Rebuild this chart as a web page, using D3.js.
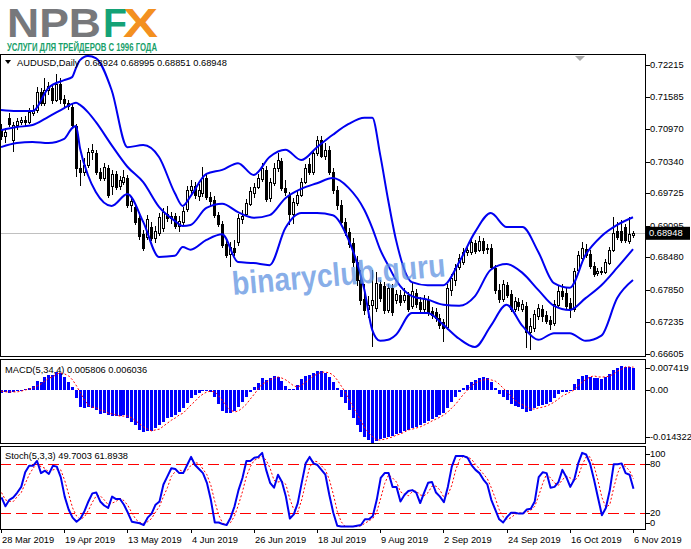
<!DOCTYPE html>
<html><head><meta charset="utf-8">
<script src="https://cdn.jsdelivr.net/npm/d3@7"></script>
<style>body{margin:0;background:#fff}svg{display:block}text{font-family:"Liberation Sans",Arial,sans-serif}</style>
</head><body><svg id="c" width="691" height="549"></svg>
<script>
// ---------- DATA ----------
const symbolTitle = "AUDUSD,Daily";
const opens = [
0.7095,0.7084,0.7119,0.7076,0.7105,0.7111,0.7115,0.7111,0.7128,0.7134,
0.7169,0.7148,0.7173,0.7177,0.7154,0.7185,0.7155,0.7148,0.7140,0.7103,
0.7022,0.7014,0.7027,0.7053,0.7051,0.7014,0.7002,0.7022,0.6987,0.7010,
0.6987,0.6994,0.7002,0.6950,0.6946,0.6925,0.6893,0.6887,0.6907,0.6886,
0.6895,0.6905,0.6932,0.6925,0.6928,0.6909,0.6917,0.6942,0.6979,0.6987,
0.6967,0.6973,0.7002,0.6965,0.6960,0.6930,0.6913,0.6874,0.6855,0.6866,
0.6878,0.6923,0.6932,0.6952,0.6973,0.6985,0.7000,0.7018,0.6963,0.6992,
0.7022,0.7035,0.6983,0.6969,0.6932,0.6954,0.6969,0.6994,0.7029,0.7014,
0.7051,0.7076,0.7045,0.7057,0.7014,0.6979,0.6950,0.6917,0.6897,0.6876,
0.6839,0.6804,0.6767,0.6748,0.6756,0.6750,0.6796,0.6792,0.6746,0.6789,
0.6766,0.6775,0.6766,0.6775,0.6754,0.6779,0.6762,0.6748,0.6766,0.6744,
0.6742,0.6731,0.6723,0.6713,0.6785,0.6804,0.6830,0.6839,0.6859,0.6859,
0.6876,0.6863,0.6880,0.6864,0.6866,0.6828,0.6785,0.6767,0.6794,0.6777,
0.6748,0.6762,0.6748,0.6754,0.6703,0.6711,0.6734,0.6748,0.6736,0.6727,
0.6721,0.6756,0.6783,0.6779,0.6760,0.6748,0.6824,0.6847,0.6864,0.6855,
0.6831,0.6818,0.6822,0.6820,0.6837,0.6863,0.6899,0.6899,0.6907,0.6880,
0.68924];
const highs = [
0.7107,0.7099,0.7128,0.7111,0.7119,0.7121,0.7122,0.7138,0.7144,0.7179,
0.7177,0.7196,0.7189,0.7185,0.7204,0.7196,0.7163,0.7154,0.7146,0.7107,
0.7037,0.7041,0.7060,0.7068,0.7057,0.7022,0.7031,0.7027,0.7018,0.7016,
0.7006,0.7018,0.7008,0.6963,0.6952,0.6932,0.6901,0.6930,0.6917,0.6909,
0.6934,0.6944,0.6948,0.6936,0.6934,0.6928,0.6946,0.6987,0.6998,0.6994,
0.6990,0.7024,0.7010,0.6975,0.6967,0.6936,0.6919,0.6882,0.6878,0.6882,
0.6932,0.6940,0.6961,0.6985,0.6992,0.7010,0.7031,0.7026,0.7002,0.7031,
0.7051,0.7041,0.6998,0.6975,0.6963,0.6977,0.7002,0.7029,0.7041,0.7057,
0.7084,0.7084,0.7070,0.7064,0.7022,0.6987,0.6960,0.6925,0.6905,0.6886,
0.6851,0.6824,0.6796,0.6773,0.6824,0.6820,0.6804,0.6800,0.6796,0.6796,
0.6785,0.6785,0.6789,0.6781,0.6800,0.6787,0.6771,0.6775,0.6773,0.6752,
0.6750,0.6738,0.6729,0.6796,0.6816,0.6835,0.6855,0.6866,0.6870,0.6886,
0.6882,0.6889,0.6886,0.6874,0.6874,0.6833,0.6796,0.6804,0.6800,0.6785,
0.6771,0.6769,0.6766,0.6762,0.6731,0.6746,0.6758,0.6756,0.6744,0.6734,
0.6766,0.6792,0.6796,0.6789,0.6769,0.6828,0.6861,0.6878,0.6874,0.6863,
0.6839,0.6828,0.6830,0.6845,0.6868,0.6926,0.6917,0.6921,0.6913,0.6926,
0.68995];
const lows = [
0.7076,0.7070,0.7101,0.7053,0.7095,0.7105,0.7103,0.7107,0.7122,0.7128,
0.7142,0.7142,0.7163,0.7146,0.7150,0.7146,0.7138,0.7134,0.7099,0.7004,
0.6987,0.7006,0.7022,0.7037,0.7008,0.6996,0.6996,0.6963,0.6969,0.6979,
0.6979,0.6989,0.6944,0.6936,0.6911,0.6882,0.6861,0.6882,0.6880,0.6876,
0.6889,0.6897,0.6917,0.6913,0.6903,0.6897,0.6911,0.6936,0.6969,0.6961,
0.6958,0.6965,0.6960,0.6948,0.6925,0.6907,0.6866,0.6847,0.6830,0.6851,
0.6870,0.6913,0.6928,0.6948,0.6963,0.6981,0.6994,0.6956,0.6956,0.6987,
0.7014,0.6977,0.6967,0.6911,0.6913,0.6948,0.6965,0.6990,0.7008,0.7008,
0.7045,0.7041,0.7037,0.7008,0.6971,0.6940,0.6909,0.6889,0.6866,0.6830,
0.6792,0.6756,0.6736,0.6731,0.6674,0.6742,0.6762,0.6738,0.6740,0.6734,
0.6758,0.6754,0.6760,0.6742,0.6748,0.6750,0.6742,0.6742,0.6734,0.6729,
0.6723,0.6709,0.6684,0.6707,0.6773,0.6792,0.6824,0.6833,0.6851,0.6853,
0.6855,0.6859,0.6855,0.6855,0.6824,0.6777,0.6760,0.6762,0.6769,0.6742,
0.6742,0.6744,0.6742,0.6672,0.6669,0.6703,0.6727,0.6723,0.6719,0.6707,
0.6715,0.6750,0.6766,0.6748,0.6731,0.6742,0.6818,0.6841,0.6847,0.6826,
0.6810,0.6812,0.6814,0.6816,0.6833,0.6859,0.6882,0.6876,0.6876,0.6874,
0.68851];
const closes = [
0.7084,0.7092,0.7107,0.7105,0.7113,0.7115,0.7111,0.7130,0.7134,0.7169,
0.7148,0.7173,0.7181,0.7154,0.7185,0.7155,0.7148,0.7142,0.7105,0.7022,
0.7014,0.7027,0.7053,0.7057,0.7014,0.7002,0.7024,0.6969,0.7010,0.6985,
0.6998,0.7004,0.6950,0.6958,0.6917,0.6889,0.6866,0.6923,0.6886,0.6899,
0.6926,0.6936,0.6925,0.6928,0.6909,0.6919,0.6938,0.6979,0.6987,0.6969,
0.6979,0.7002,0.6965,0.6958,0.6930,0.6913,0.6872,0.6853,0.6868,0.6859,
0.6925,0.6928,0.6954,0.6977,0.6985,0.7002,0.7022,0.6961,0.6994,0.7022,
0.7037,0.6983,0.6975,0.6932,0.6956,0.6969,0.6994,0.7022,0.7014,0.7051,
0.7076,0.7045,0.7057,0.7014,0.6979,0.6950,0.6917,0.6897,0.6874,0.6839,
0.6804,0.6766,0.6746,0.6756,0.6766,0.6798,0.6769,0.6746,0.6789,0.6742,
0.6777,0.6762,0.6775,0.6748,0.6783,0.6758,0.6748,0.6767,0.6742,0.6736,
0.6731,0.6717,0.6711,0.6789,0.6808,0.6828,0.6847,0.6859,0.6863,0.6878,
0.6861,0.6880,0.6863,0.6866,0.6830,0.6785,0.6767,0.6796,0.6775,0.6748,
0.6764,0.6754,0.6758,0.6703,0.6715,0.6738,0.6750,0.6734,0.6725,0.6719,
0.6758,0.6783,0.6773,0.6754,0.6748,0.6822,0.6853,0.6866,0.6853,0.6831,
0.6816,0.6822,0.6820,0.6839,0.6863,0.6895,0.6887,0.6882,0.6882,0.6893,
0.68948];
// Bollinger bands, read at these bar indices
const bbIdx = [0,4,8,12,16,18,19,20,22,24,28,32,36,40,44,46,48,52,56,60,64,68,72,76,80,84,88,92,94,96,98,100,104,108,112,116,120,124,128,132,136,140,144,148,152,156,160];
const bbUpper = [0.7134,0.7132,0.7132,0.7177,0.7192,0.7198,0.7216,0.7231,0.7239,0.7235,0.7173,0.7062,0.7066,0.7043,0.6973,0.6948,0.6967,0.7010,0.7018,0.7031,0.7008,0.7043,0.7057,0.7037,0.7062,0.7086,0.7107,0.7119,0.7119,0.7047,0.6960,0.6882,0.6800,0.6794,0.6794,0.6839,0.6897,0.6934,0.6907,0.6907,0.6859,0.6798,0.6789,0.6853,0.6889,0.6911,0.6926];
const bbMiddle = [0.7095,0.7101,0.7105,0.7121,0.7138,0.7146,0.7148,0.7144,0.7130,0.7111,0.7066,0.7024,0.6994,0.6946,0.6919,0.6909,0.6911,0.6944,0.6952,0.6936,0.6925,0.6930,0.6963,0.6981,0.6992,0.7002,0.6983,0.6940,0.6905,0.6863,0.6833,0.6804,0.6773,0.6766,0.6756,0.6754,0.6773,0.6824,0.6835,0.6818,0.6785,0.6754,0.6746,0.6769,0.6794,0.6828,0.6864];
const bbLower = [0.7062,0.7070,0.7072,0.7070,0.7078,0.7099,0.7103,0.7060,0.7008,0.6975,0.6948,0.6971,0.6917,0.6849,0.6851,0.6868,0.6863,0.6882,0.6893,0.6839,0.6837,0.6833,0.6905,0.6934,0.6934,0.6930,0.6882,0.6785,0.6707,0.6686,0.6688,0.6698,0.6740,0.6740,0.6717,0.6690,0.6674,0.6715,0.6756,0.6715,0.6688,0.6701,0.6701,0.6686,0.6696,0.6769,0.6804];
const macdHist = [
-0.0009,-0.0006,-0.0009,-0.0006,-0.0004,-0.0004,0.0002,0.0004,0.0010,0.0023,
0.0020,0.0034,0.0039,0.0039,0.0047,0.0045,0.0034,0.0020,0.0007,-0.0023,
-0.0047,-0.0049,-0.0047,-0.0049,-0.0055,-0.0065,-0.0063,-0.0068,-0.0071,-0.0071,
-0.0071,-0.0068,-0.0076,-0.0087,-0.0095,-0.0108,-0.0114,-0.0111,-0.0111,-0.0103,
-0.0095,-0.0087,-0.0076,-0.0074,-0.0068,-0.0060,-0.0049,-0.0036,-0.0023,-0.0014,
-0.0009,-0.0004,-0.0004,-0.0006,-0.0020,-0.0039,-0.0057,-0.0063,-0.0063,-0.0057,
-0.0047,-0.0033,-0.0020,-0.0006,0.0007,0.0018,0.0031,0.0026,0.0031,0.0037,
0.0034,0.0023,0.0010,0.0002,0.0002,0.0012,0.0028,0.0037,0.0039,0.0045,
0.0050,0.0050,0.0045,0.0034,0.0020,0.0004,-0.0020,-0.0036,-0.0055,-0.0076,
-0.0095,-0.0114,-0.0127,-0.0135,-0.014322,-0.0138,-0.0133,-0.0130,-0.0127,-0.0125,
-0.0119,-0.0116,-0.0111,-0.0108,-0.0103,-0.0100,-0.0095,-0.0090,-0.0084,-0.0079,
-0.0074,-0.0068,-0.0063,-0.0049,-0.0033,-0.0020,-0.0006,0.0004,0.0012,0.0020,
0.0026,0.0031,0.0034,0.0031,0.0020,0.0004,-0.0012,-0.0020,-0.0028,-0.0039,
-0.0044,-0.0047,-0.0052,-0.0060,-0.0057,-0.0049,-0.0044,-0.0041,-0.0039,-0.0033,
-0.0023,-0.0012,-0.0006,-0.0006,-0.0001,0.0015,0.0028,0.0037,0.0039,0.0034,
0.0031,0.0031,0.0028,0.0034,0.0042,0.0053,0.0058,0.0063,0.0061,0.0061,
0.005806];
const macdSignal = [
-0.0004,-0.0006,-0.0006,-0.0006,-0.0006,-0.0004,-0.0001,0.0002,0.0004,0.0010,
0.0015,0.0023,0.0031,0.0034,0.0042,0.0045,0.0042,0.0037,0.0026,0.0010,
-0.0009,-0.0028,-0.0041,-0.0047,-0.0049,-0.0055,-0.0057,-0.0063,-0.0065,-0.0068,
-0.0071,-0.0071,-0.0071,-0.0076,-0.0084,-0.0092,-0.0100,-0.0106,-0.0111,-0.0108,
-0.0106,-0.0098,-0.0090,-0.0082,-0.0076,-0.0068,-0.0063,-0.0052,-0.0041,-0.0031,
-0.0020,-0.0012,-0.0006,-0.0004,-0.0006,-0.0017,-0.0031,-0.0044,-0.0055,-0.0060,
-0.0057,-0.0049,-0.0039,-0.0025,-0.0012,0.0002,0.0015,0.0020,0.0026,0.0031,
0.0034,0.0031,0.0026,0.0018,0.0010,0.0007,0.0012,0.0020,0.0028,0.0037,
0.0042,0.0047,0.0047,0.0045,0.0039,0.0026,0.0010,-0.0006,-0.0028,-0.0047,
-0.0065,-0.0084,-0.0103,-0.0116,-0.0127,-0.0135,-0.0135,-0.0133,-0.0130,-0.0127,
-0.0122,-0.0119,-0.0114,-0.0108,-0.0106,-0.0103,-0.0100,-0.0095,-0.0090,-0.0084,
-0.0079,-0.0074,-0.0068,-0.0060,-0.0049,-0.0039,-0.0025,-0.0012,-0.0001,0.0010,
0.0018,0.0023,0.0026,0.0028,0.0026,0.0023,0.0015,0.0004,-0.0006,-0.0017,
-0.0028,-0.0036,-0.0041,-0.0047,-0.0052,-0.0052,-0.0049,-0.0047,-0.0044,-0.0039,
-0.0033,-0.0025,-0.0017,-0.0012,-0.0006,-0.0001,0.0010,0.0020,0.0028,0.0034,
0.0037,0.0034,0.0034,0.0034,0.0037,0.0042,0.0050,0.0055,0.0061,0.0061,
0.006036];
const stochK = [
39,28,36,39,45,52,70,78,78,84,
69,72,68,78,77,64,40,24,14,9,
13,22,34,44,45,34,29,26,40,37,
37,30,20,9,8,7,5,14,19,30,
34,55,65,75,74,69,69,79,89,79,
74,69,57,36,8,8,6,5,14,28,
48,63,84,84,88,89,94,73,57,51,
67,58,40,13,18,32,57,81,89,81,
79,73,67,42,20,4,3,3,3,3,
4,5,12,12,16,36,63,69,69,52,
52,34,42,47,48,45,32,45,57,58,
45,40,33,52,77,90,90,90,88,79,
73,69,61,55,36,24,12,8,15,20,
20,19,19,24,25,34,64,70,69,51,
52,58,73,64,52,61,81,94,92,81,
61,39,17,26,48,80,80,81,69,67,
49.7003];
const stochD = [
45,36,34,34,40,45,56,67,75,80,
77,75,70,73,74,73,60,43,26,16,
12,15,23,33,41,41,36,30,32,34,
38,35,29,20,12,8,7,9,13,21,
28,40,51,65,71,73,71,72,79,82,
81,74,67,54,34,17,7,6,8,16,
30,46,65,77,85,87,90,85,75,60,
58,59,55,37,24,21,36,57,76,84,
83,78,73,61,43,22,9,3,3,3,
3,4,7,10,13,21,38,56,67,63,
58,46,43,41,46,47,42,41,45,53,
53,48,39,42,54,73,86,90,89,86,
80,74,68,62,51,38,24,15,12,14,
18,20,19,21,23,28,41,56,68,63,
57,54,61,65,63,59,65,79,89,89,
78,60,39,27,30,51,69,80,77,72,
61.8938];
const priceTicks = [0.72215,0.71585,0.70970,0.70340,0.69725,0.69095,0.68480,0.67850,0.67235,0.66605];
const macdTicks = [0.007419,0,-0.014322];
const macdTickLabels = ["0.007419","0.00","-0.014322"];
const stochTicks = [100,80,20,0];
const stochLevels = [80,20];
const dateTickIdx = [0,16,32,48,64,80,96,112,128,144,160];
const dateTickLabels = ["28 Mar 2019","19 Apr 2019","13 May 2019","4 Jun 2019","26 Jun 2019","18 Jul 2019","9 Aug 2019","2 Sep 2019","24 Sep 2019","16 Oct 2019","6 Nov 2019"];

// ---------- LAYOUT ----------
const svg = d3.select("#c");
const RIGHT = 645;
const P = {main:[55,356], macd:[360,443], stoch:[447,529]};
const FS = 9.3;
const x = d3.scaleLinear().domain([0,160]).range([1,633]);
const yP = d3.scaleLinear().domain([0.72215,0.66605]).range([65,354]);
const yM = d3.scaleLinear().domain([0.007419,-0.014322]).range([362,443]);
const yS = d3.scaleLinear().domain([100,0]).range([448,529]);
const n = closes.length;
const BLUE = "#0000f0", RED = "#ff0000";

// logo
svg.append("text").attr("x",7).attr("y",37).attr("font-family","DejaVu Sans").attr("font-weight","bold")
  .attr("font-size",40).attr("fill","#77787b").attr("textLength",94).attr("lengthAdjust","spacingAndGlyphs").text("NPB");
svg.append("text").attr("x",103).attr("y",37).attr("font-family","DejaVu Sans").attr("font-weight","bold")
  .attr("font-size",40).attr("fill","#14a276").attr("textLength",24).attr("lengthAdjust","spacingAndGlyphs").text("F");
svg.append("text").attr("x",123).attr("y",37).attr("font-family","DejaVu Sans").attr("font-weight","bold")
  .attr("font-size",40).attr("fill","#f39020").attr("textLength",35).attr("lengthAdjust","spacingAndGlyphs").text("X");
svg.append("text").attr("x",7).attr("y",51).attr("font-weight","bold").attr("font-size",10.5)
  .attr("fill","#17a06a").attr("textLength",150).attr("lengthAdjust","spacingAndGlyphs").text("УСЛУГИ ДЛЯ ТРЕЙДЕРОВ С 1996 ГОДА");

// clip for main panel
svg.append("defs").append("clipPath").attr("id","clipMain").append("rect")
  .attr("x",0).attr("y",P.main[0]).attr("width",RIGHT).attr("height",P.main[1]-P.main[0]);

const gMain = svg.append("g").attr("clip-path","url(#clipMain)");

// current price line
const last = closes[n-1];
gMain.append("line").attr("x1",0).attr("x2",RIGHT).attr("y1",Math.round(yP(last))+0.5).attr("y2",Math.round(yP(last))+0.5)
  .attr("stroke","#c0c0c0").attr("stroke-width",1);

// candles
const cg = gMain.append("g").attr("shape-rendering","crispEdges");
d3.range(n).forEach(i => {
  const xc = Math.round(x(i));
  const o = opens[i], c = closes[i];
  cg.append("line").attr("x1",xc+0.5).attr("x2",xc+0.5).attr("y1",yP(highs[i])).attr("y2",yP(lows[i]))
    .attr("stroke","#000").attr("stroke-width",1);
  const yt = Math.round(yP(Math.max(o,c))), yb = Math.round(yP(Math.min(o,c)));
  const bull = c >= o;
  cg.append("rect").attr("x",xc-0.5).attr("y",yt+0.5).attr("width",2).attr("height",Math.max(0,yb-yt))
    .attr("fill",bull?"#fff":"#000").attr("stroke","#000").attr("stroke-width",1);
});

// bands
const bandLine = vals => d3.line().x((d,k)=>x(bbIdx[k])).y(d=>yP(d)).curve(d3.curveMonotoneX)(vals);
[bbUpper,bbMiddle,bbLower].forEach(v => {
  gMain.append("path").attr("d",bandLine(v)).attr("fill","none").attr("stroke",BLUE).attr("stroke-width",2);
});

// shift marker
svg.append("path").attr("d","M575,56L585,56L580,61Z").attr("fill","#a8a8a8");

// title
svg.append("path").attr("d","M5,60L11,60L8,64Z").attr("fill","#000");
svg.append("text").attr("x",17).attr("y",62.5).attr("dominant-baseline","central").attr("font-size",FS)
  .style("white-space","pre").text(symbolTitle+"  "+[opens[n-1],highs[n-1],lows[n-1],closes[n-1]].map(v=>v.toFixed(5)).join(" "));

// MACD
const gM = svg.append("g").attr("shape-rendering","crispEdges");
macdHist.forEach((v,i) => {
  const xc = Math.round(x(i));
  const y0 = Math.round(yM(0)), y1 = Math.round(yM(v));
  gM.append("rect").attr("x",xc-1).attr("y",Math.min(y0,y1)).attr("width",3).attr("height",Math.max(1,Math.abs(y1-y0)))
    .attr("fill","#0000ff");
});
svg.append("path").attr("d",d3.line().x((d,i)=>x(i)+0.5).y(d=>yM(d))(macdSignal))
  .attr("fill","none").attr("stroke",RED).attr("stroke-width",1).attr("stroke-dasharray","2,2");
svg.append("text").attr("x",5).attr("y",370).attr("dominant-baseline","central").attr("font-size",FS)
  .text("MACD(5,34,4) "+macdHist[n-1].toFixed(6)+" "+macdSignal[n-1].toFixed(6));

// Stochastic
const gS = svg.append("g");
stochLevels.forEach(l => {
  gS.append("line").attr("x1",0).attr("x2",RIGHT).attr("y1",Math.round(yS(l))+0.5).attr("y2",Math.round(yS(l))+0.5)
    .attr("stroke",RED).attr("stroke-width",1).attr("stroke-dasharray","11,5");
});
gS.append("path").attr("d",d3.line().x((d,i)=>x(i)+0.5).y(d=>yS(d))(stochD))
  .attr("fill","none").attr("stroke",RED).attr("stroke-width",1).attr("stroke-dasharray","2,2");
gS.append("path").attr("d",d3.line().x((d,i)=>x(i)+0.5).y(d=>yS(d))(stochK))
  .attr("fill","none").attr("stroke",BLUE).attr("stroke-width",2).attr("stroke-linejoin","round");
svg.append("text").attr("x",5).attr("y",455.5).attr("dominant-baseline","central").attr("font-size",FS)
  .text("Stoch(5,3,3) "+stochK[n-1].toFixed(4)+" "+stochD[n-1].toFixed(4));

// panel borders
const bg = svg.append("g").attr("fill","none").attr("stroke","#000").attr("stroke-width",1).attr("shape-rendering","crispEdges");
Object.values(P).forEach(([t,b]) => bg.append("rect").attr("x",0.5).attr("y",t-0.5).attr("width",RIGHT).attr("height",b-t+1));

// right axes
const ax = svg.append("g").attr("font-size",FS);
function tick(y, label){
  const yy = Math.round(y)+0.5;
  ax.append("line").attr("x1",RIGHT+1).attr("x2",RIGHT+5).attr("y1",yy).attr("y2",yy).attr("stroke","#000").attr("shape-rendering","crispEdges");
  ax.append("text").attr("x",650).attr("y",y).attr("dominant-baseline","central").text(label);
}
priceTicks.forEach(v => tick(yP(v), v.toFixed(5)));
macdTicks.forEach((v,k) => tick(Math.min(Math.max(yM(v),P.macd[0]+8),P.macd[1]-6.5), macdTickLabels[k]));
stochTicks.forEach(v => tick(Math.min(Math.max(yS(v),P.stoch[0]+7),P.stoch[1]-6), String(v)));

// current price label
const yl = yP(last);
svg.append("rect").attr("x",646).attr("y",yl-6.5).attr("width",44).attr("height",13).attr("fill","#000");
svg.append("text").attr("x",649).attr("y",yl).attr("dominant-baseline","central").attr("font-size",FS).attr("fill","#fff").text(last.toFixed(5));

// date axis
dateTickIdx.forEach((i,k) => {
  const xc = Math.round(x(i))+0.5;
  svg.append("line").attr("x1",xc).attr("x2",xc).attr("y1",P.stoch[1]).attr("y2",P.stoch[1]+4).attr("stroke","#000").attr("shape-rendering","crispEdges");
  svg.append("text").attr("x",Math.round(x(i))+1).attr("y",540).attr("dominant-baseline","central").attr("font-size",FS).text(dateTickLabels[k]);
});

// watermark
svg.append("text").attr("x",233).attr("y",295).attr("transform","rotate(-5,233,295)")
  .attr("font-weight","bold").attr("font-size",33).attr("fill","#5a8fe0").attr("fill-opacity",0.72)
  .attr("textLength",214).attr("lengthAdjust","spacingAndGlyphs").text("binaryclub.guru");
</script>
</body></html>
